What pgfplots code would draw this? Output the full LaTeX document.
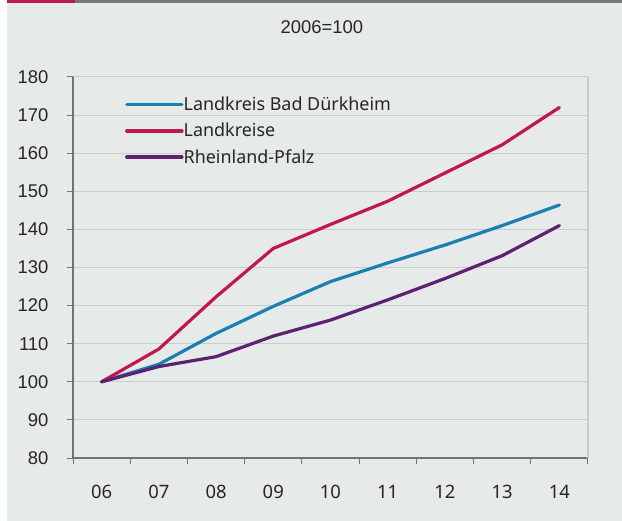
\documentclass[border=0pt]{standalone}
\usepackage{pgfplots}
\pgfplotsset{compat=1.18}
\usepackage{fontspec}
\setmainfont{Noto Sans}
\newfontfamily\arialf{Liberation Sans}
\definecolor{bg}{HTML}{E6EAE9}
\definecolor{bdk}{HTML}{1B7FB4}
\definecolor{lkr}{HTML}{C1184B}
\definecolor{rlp}{HTML}{5C216F}
\definecolor{axdark}{HTML}{707375}
\definecolor{gridc}{HTML}{C8CCCB}
\definecolor{topgray}{HTML}{76797C}
\definecolor{topred}{HTML}{BE1A4A}
\definecolor{txt}{HTML}{262626}
\begin{document}
\begin{tikzpicture}
\useasboundingbox (0bp,0bp) rectangle (622bp,521bp);
\fill[white] (0bp,0bp) rectangle (622bp,521bp);
\fill[bg] (7bp,0bp) rectangle (622bp,518bp);
\fill[topred] (7bp,518bp) rectangle (75bp,521bp);
\fill[topgray] (75bp,518bp) rectangle (622bp,521bp);
\node[font=\arialf\fontsize{18.5}{20}\selectfont, text=txt] at (322bp,494bp) {2006=100};
\begin{axis}[
  at={(73bp,63bp)}, anchor=south west,
  scale only axis, width=515bp, height=381bp,
  xmin=0.5, xmax=9.5, ymin=80, ymax=180,
  xtick={0.5,1.5,...,9.5},
  xticklabels={06,07,08,09,10,11,12,13,14},
  x tick label as interval,
  ytick={80,90,...,180},
  /pgf/number format/assume math mode=true,
  axis lines=left,
  axis line style={-, draw=axdark, line width=1.5bp},
  tick align=outside,
  major tick length=6bp,
  tick style={draw=axdark, line width=1bp},
  ymajorgrids,
  grid style={draw=gridc, line width=1bp},
  yticklabel style={font=\arialf\fontsize{18.5}{20}\selectfont, text=txt, xshift=-15bp},
  xticklabel style={font=\fontsize{18.5}{20}\selectfont, text=txt, yshift=-18bp},
  legend style={at={(rel axis cs:0.095,0.953)}, anchor=north west, draw=none, fill=none,
    font=\fontsize{18}{20}\selectfont, text=txt, row sep=11bp,
    nodes={inner sep=0bp}},
  legend cell align=left,
  /tikz/every even column/.append style={column sep=2bp},
  legend image code/.code={\draw[#1, line width=3.5bp, line cap=round] (0bp,0bp) -- (55bp,0bp);},
  every axis plot/.append style={line width=3.2bp, line join=round, line cap=round, mark=none},
  after end axis/.code={\draw[gridc, line width=1.2bp] (rel axis cs:1,0) -- (rel axis cs:1,1);},
]
\addplot[bdk] coordinates {(1,100) (2,104.6) (3,112.7) (4,119.8) (5,126.3) (6,131.2) (7,135.9) (8,141.0) (9,146.4)};
\addlegendentry{Landkreis Bad Dürkheim}
\addplot[lkr] coordinates {(1,100) (2,108.6) (3,122.3) (4,135.0) (5,141.3) (6,147.4) (7,154.8) (8,162.2) (9,172.0)};
\addlegendentry{Landkreise}
\addplot[rlp] coordinates {(1,100) (2,104.0) (3,106.6) (4,112.0) (5,116.2) (6,121.5) (7,127.1) (8,133.1) (9,141.0)};
\addlegendentry{Rheinland-Pfalz}
\end{axis}
\end{tikzpicture}
\end{document}
